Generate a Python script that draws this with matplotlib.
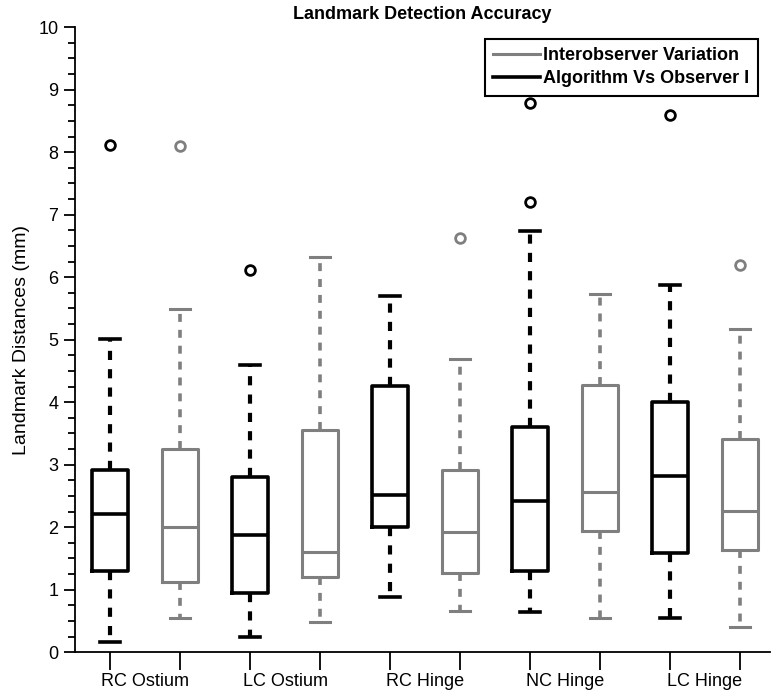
import matplotlib
matplotlib.use("Agg")
import matplotlib.pyplot as plt
from matplotlib.lines import Line2D

plt.rcParams['font.family'] = ['Liberation Sans', 'DejaVu Sans']

# order: RC Ostium alg, RC Ostium inter, LC Ostium alg, LC Ostium inter, ...
groups = ["RC Ostium", "LC Ostium", "RC Hinge", "NC Hinge", "LC Hinge"]
series = ["alg", "inter", "alg", "inter", "alg", "inter", "alg", "inter", "alg", "inter"]
whislo = [0.16, 0.54, 0.24, 0.48, 0.88, 0.66, 0.64, 0.54, 0.55, 0.40]
q1 = [1.30, 1.12, 0.94, 1.21, 2.00, 1.27, 1.30, 1.94, 1.58, 1.64]
med = [2.21, 2.00, 1.87, 1.60, 2.51, 1.93, 2.42, 2.57, 2.82, 2.26]
q3 = [2.91, 3.25, 2.80, 3.55, 4.26, 2.91, 3.61, 4.27, 4.00, 3.41]
whishi = [5.01, 5.49, 4.59, 6.32, 5.70, 4.69, 6.74, 5.73, 5.88, 5.17]
fliers = [[8.12], [8.10], [6.12], [], [], [6.62], [7.21, 8.78], [], [8.60], [6.19]]

colors = {"alg": "black", "inter": "#7f7f7f"}
lws = {"alg": 2.6, "inter": 2.2}

fig = plt.figure(figsize=(7.74, 6.96), dpi=100)
ax = fig.add_axes([0.097, 0.063, 0.898, 0.898])

for i in range(len(med)):
    s = series[i]
    c = colors[s]
    lw = lws[s]
    stats = [dict(whislo=whislo[i], q1=q1[i], med=med[i], q3=q3[i],
                  whishi=whishi[i], fliers=fliers[i])]
    ax.bxp(stats, positions=[i + 1], widths=0.52, capwidths=0.29,
           boxprops=dict(color=c, linewidth=lw),
           medianprops=dict(color=c, linewidth=lw),
           whiskerprops=dict(color=c, linewidth=lw + 0.4, linestyle=(0, (2.2, 2.2))),
           capprops=dict(color=c, linewidth=lw),
           flierprops=dict(marker='o', markersize=7, markerfacecolor='none',
                           markeredgecolor=c, markeredgewidth=2.0))

ax.set_xlim(0.5, 10.43)
ax.set_ylim(0, 10)
ax.spines['top'].set_visible(False)
ax.spines['right'].set_visible(False)
ax.spines['left'].set_linewidth(1.3)
ax.spines['bottom'].set_linewidth(1.3)

ax.set_yticks(range(0, 11))
ax.set_yticks([k * 0.25 for k in range(41)], minor=True)
ax.tick_params(axis='y', which='major', direction='out', length=8, width=1.3,
               labelsize=13, pad=4)
ax.tick_params(axis='y', which='minor', direction='out', length=5, width=1.3)

ax.set_xticks(range(1, 11))
ax.set_xticklabels([""] * 10)
ax.set_xticks([1.5 + 2 * k for k in range(len(groups))], minor=True)
ax.set_xticklabels(groups, minor=True)
ax.tick_params(axis='x', which='major', direction='out', length=13, width=1.3)
ax.tick_params(axis='x', which='minor', length=0, labelsize=13, pad=15)

ax.set_ylabel("Landmark Distances (mm)", fontsize=14, labelpad=6)
ax.set_title("Landmark Detection Accuracy", fontsize=13, fontweight='bold', pad=6)

handles = [Line2D([], [], color=colors["inter"], linewidth=2.2),
           Line2D([], [], color=colors["alg"], linewidth=2.6)]
leg = ax.legend(handles, ["Interobserver Variation", "Algorithm Vs Observer I"],
                loc='upper right', bbox_to_anchor=(0.979, 0.944),
                bbox_transform=fig.transFigure, borderaxespad=0,
                fancybox=False, framealpha=1, edgecolor='black',
                prop=dict(weight='bold', size=13), handlelength=2.6,
                handletextpad=0.2, borderpad=0.45, labelspacing=0.35)
leg.get_frame().set_linewidth(1.5)

fig.savefig("out.png", dpi=100)
